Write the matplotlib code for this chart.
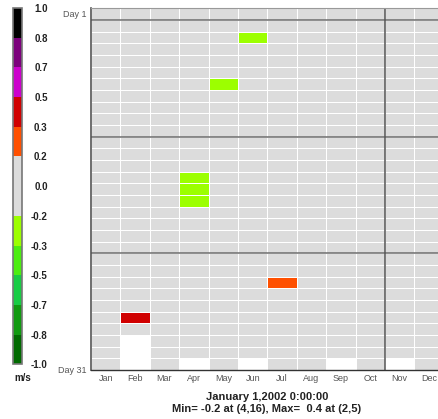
import numpy as np
import matplotlib
matplotlib.use('agg')
import matplotlib.pyplot as plt
from matplotlib.colors import ListedColormap, BoundaryNorm
from matplotlib.ticker import FormatStrFormatter

plt.rcParams['font.family'] = ['Liberation Sans', 'DejaVu Sans']

# calendar for 2002
months = ['Jan', 'Feb', 'Mar', 'Apr', 'May', 'Jun', 'Jul', 'Aug', 'Sep', 'Oct', 'Nov', 'Dec']
days_in_month = [31, 28, 31, 30, 31, 30, 31, 31, 30, 31, 30, 31]
n_days = 31

# non-zero cells (month number, day of month, value in m/s)
cell_months = [2, 4, 4, 4, 5, 6, 7]
cell_days = [27, 15, 16, 17, 7, 3, 24]
cell_values = [0.4, -0.21, -0.24, -0.22, -0.21, -0.22, 0.25]

# colour scale, 12 equal bins from -1 to 1
levels = np.arange(-6, 7) / 6
bin_colors = ['#006a00', '#109a10', '#18cc44', '#4cee10', '#9cff00', '#dcdcdc',
              '#dcdcdc', '#ff5000', '#d00000', '#cc00cc', '#7c007c', '#000000']

# build the day x month grid
grid = np.zeros((n_days, 12))
for m, nd in enumerate(days_in_month):
    grid[nd:, m] = np.nan
for m, d, v in zip(cell_months, cell_days, cell_values):
    grid[d - 1, m - 1] = v
data = np.ma.masked_invalid(grid)

cmap = ListedColormap(bin_colors)
cmap.set_bad('white')
norm = BoundaryNorm(levels, cmap.N)

fig = plt.figure(figsize=(4.39, 4.19), dpi=100)
ax = fig.add_axes([91 / 439, 1 - 370 / 419, 352.8 / 439, 361.7 / 419])

x_edges = np.arange(13) + 0.5
y_edges = np.arange(n_days + 1) + 0.5
mesh = ax.pcolormesh(x_edges, y_edges, data, cmap=cmap, norm=norm,
                     edgecolors='white', linewidth=0.55)
ax.set_xlim(0.5, 12.5)
ax.set_ylim(n_days + 0.5, 0.5)

# heavier separators
for yy in [1.5, 11.5, 21.5]:
    ax.axhline(yy, color='#6e6e6e', lw=1.1)
ax.axvline(10.5, color='#555555', lw=1.1)

ax.set_xticks(np.arange(1, 13))
ax.set_xticklabels(months, fontsize=6.5, color='#555555')
ax.tick_params(axis='x', length=0, pad=3)
ax.set_yticks([])
ax.text(0.33, 1.0, 'Day 1', ha='right', va='center', fontsize=6.5, color='#555555')
ax.text(0.35, 31.55, 'Day 31', ha='right', va='center', fontsize=6.5, color='#555555')

ax.spines['left'].set_color('#555555')
ax.spines['left'].set_linewidth(1.2)
ax.spines['bottom'].set_color('#333333')
ax.spines['bottom'].set_linewidth(1.0)
ax.spines['top'].set_color('#999999')
ax.spines['top'].set_linewidth(0.8)
ax.spines['right'].set_visible(False)

# summary text
vals = np.where(np.isnan(grid), np.inf, grid)
imin = np.unravel_index(np.argmin(vals), grid.shape)
vals = np.where(np.isnan(grid), -np.inf, grid)
imax = np.unravel_index(np.argmax(vals), grid.shape)
min_txt = 'Min= %s at (%d,%d)' % (format(grid[imin], ' .1f'), imin[1] + 1, n_days + 1 - (imin[0] + 1))
max_txt = 'Max= %s at (%d,%d)' % (format(grid[imax], ' .1f'), imax[1] + 1, n_days + 1 - (imax[0] + 1))
fig.text(267 / 439, 1 - 397 / 419, 'January 1,2002 0:00:00', ha='center', va='center',
         fontsize=8, fontweight='bold', color='#222222')
fig.text(267 / 439, 1 - 409 / 419, min_txt + ', ' + max_txt, ha='center', va='center',
         fontsize=8, fontweight='bold', color='#222222')

# colour bar
cax = fig.add_axes([13 / 439, 1 - 364.4 / 419, 9 / 439, 356.4 / 419])
cb = fig.colorbar(mesh, cax=cax, ticks=levels, spacing='uniform')
cb.ax.yaxis.set_major_formatter(FormatStrFormatter('%.1f'))
cb.ax.tick_params(length=0, pad=18.5, labelsize=7, labelcolor='#222222')
for lab in cb.ax.get_yticklabels():
    lab.set_fontweight('bold')
    lab.set_horizontalalignment('right')
cb.outline.set_edgecolor('#777777')
cb.outline.set_linewidth(1.2)
fig.text(23 / 439, 1 - 378 / 419, 'm/s', ha='center', va='center',
         fontsize=7, fontweight='bold', color='#222222')

fig.savefig('out.png', dpi=100)
